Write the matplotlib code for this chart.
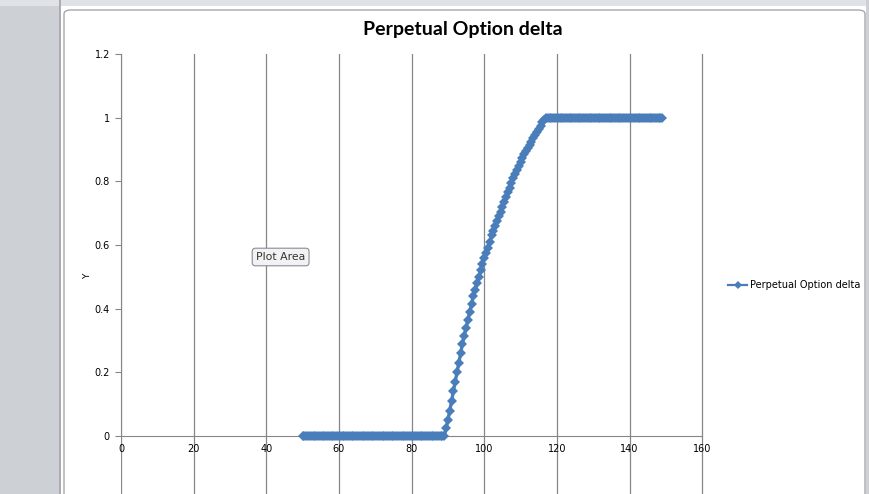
import numpy as np
import matplotlib
matplotlib.use("Agg")
import matplotlib.pyplot as plt
from matplotlib.patches import Rectangle, FancyBboxPatch
from matplotlib.lines import Line2D

# ---- data ----
title = "Perpetual Option delta"
series_name = "Perpetual Option delta"
y_label = "Y"
x_ticks = [0, 20, 40, 60, 80, 100, 120, 140, 160]
y_ticks = [0, 0.2, 0.4, 0.6, 0.8, 1, 1.2]
y_tick_labels = ["0", "0.2", "0.4", "0.6", "0.8", "1", "1.2"]

# stock price grid (step 0.5)
x_flat_low = np.arange(50.0, 89.0, 0.5)        # delta = 0
x_rise = np.arange(89.0, 117.5, 0.5)           # rising part
x_flat_high = np.arange(117.5, 149.5, 0.5)     # delta = 1

y_flat_low = [0.0] * len(x_flat_low)
y_rise = [0.000, 0.025, 0.050, 0.080, 0.110, 0.140, 0.170, 0.200, 0.230,
          0.260, 0.290, 0.315, 0.340, 0.365, 0.390, 0.415, 0.440, 0.460,
          0.480, 0.500, 0.520, 0.540, 0.560, 0.575, 0.590, 0.610, 0.630,
          0.645, 0.660, 0.675, 0.690, 0.705, 0.720, 0.735, 0.750, 0.765,
          0.780, 0.795, 0.810, 0.822, 0.835, 0.848, 0.860, 0.872, 0.885,
          0.895, 0.905, 0.915, 0.925, 0.935, 0.945, 0.955, 0.965, 0.975,
          0.985, 0.993, 1.000]
y_flat_high = [1.0] * len(x_flat_high)

x = np.concatenate([x_flat_low, x_rise, x_flat_high])
y = np.concatenate([y_flat_low, y_rise, y_flat_high])

# ---- figure ----
W, H = 870, 494
fig = plt.figure(figsize=(W / 100, H / 100), dpi=100, facecolor="white")

def px_rect(x0, y0, x1, y1, **kw):
    r = Rectangle((x0 / W, 1 - y1 / H), (x1 - x0) / W, (y1 - y0) / H,
                  transform=fig.transFigure, **kw)
    fig.patches.append(r)

# window chrome
px_rect(0, 0, 60, H, facecolor="#cdd1d6", edgecolor="none", zorder=0)
px_rect(0, 0, W, 6, facecolor="#dfe3e8", edgecolor="none", zorder=0)
px_rect(866, 0, W, H, facecolor="#cdd1d6", edgecolor="none", zorder=0)
px_rect(59, 0, 61, H, facecolor="#a9adb3", edgecolor="none", zorder=0)
frame = FancyBboxPatch((64 / W, -0.05), (865 - 64) / W, 1 - 10 / H + 0.05,
                       boxstyle="round,pad=0,rounding_size=0.008",
                       transform=fig.transFigure, facecolor="white",
                       edgecolor="#a6a6a6", linewidth=1.0, zorder=0.5)
fig.patches.append(frame)

ax_left, ax_right, ax_top = 121, 704, 54
ax = fig.add_axes([ax_left / W, 0, (ax_right - ax_left) / W, 1 - ax_top / H])
ax.set_zorder(2)
ax.set_facecolor("none")
ax.set_xlim(0, 160.5)
ax.set_ylim(-(H - 436) / 318.5, 1.2)

ax.set_xticks(x_ticks)
ax.set_xticklabels([str(t) for t in x_ticks])
ax.set_yticks(y_ticks)
ax.set_yticklabels(y_tick_labels)

ax.xaxis.grid(True, color="#868686", linewidth=0.9)
ax.yaxis.grid(False)
for s in ["top", "right"]:
    ax.spines[s].set_visible(False)
ax.spines["bottom"].set_position(("data", 0))
ax.spines["bottom"].set_bounds(0, 160)
ax.spines["bottom"].set_color("#868686")
ax.spines["left"].set_color("#868686")
ax.spines["left"].set_bounds(0, 1.2)
ax.tick_params(axis="x", length=0, pad=6, labelsize=7, labelcolor="#000000")
ax.tick_params(axis="y", length=4, width=0.8, color="#868686", pad=4,
               labelsize=7, labelcolor="#000000", direction="out")

ax.plot(x, y, color="#4a7ebb", linewidth=2.4, marker="D", markersize=5.4,
        markeredgewidth=0, zorder=3, clip_on=False)

fig.text(463 / W, 1 - 30 / H, title, ha="center", va="center",
         fontsize=14, fontweight="bold", family="Lato", zorder=5)
fig.text(88 / W, 1 - 276 / H, y_label, ha="center", va="center",
         fontsize=6.5, rotation=90, zorder=5)

handle = Line2D([], [], color="#4a7ebb", linewidth=1.6, marker="D",
                markersize=4, markeredgewidth=0)
leg = fig.legend([handle], [series_name], loc="center left",
                 bbox_to_anchor=(724 / W, 1 - 285 / H),
                 frameon=False, fontsize=7, handlelength=2.0,
                 handletextpad=0.3, borderaxespad=0)
leg.set_zorder(5)

fig.text(256 / W, 1 - 257 / H, "Plot Area", ha="left", va="center",
         fontsize=7.8, color="#333333", zorder=6,
         bbox=dict(boxstyle="round,pad=0.35,rounding_size=0.3",
                   facecolor="#f2f2f4", edgecolor="#8c8c96", linewidth=0.8))

fig.savefig("out.png", dpi=100, facecolor=fig.get_facecolor())
